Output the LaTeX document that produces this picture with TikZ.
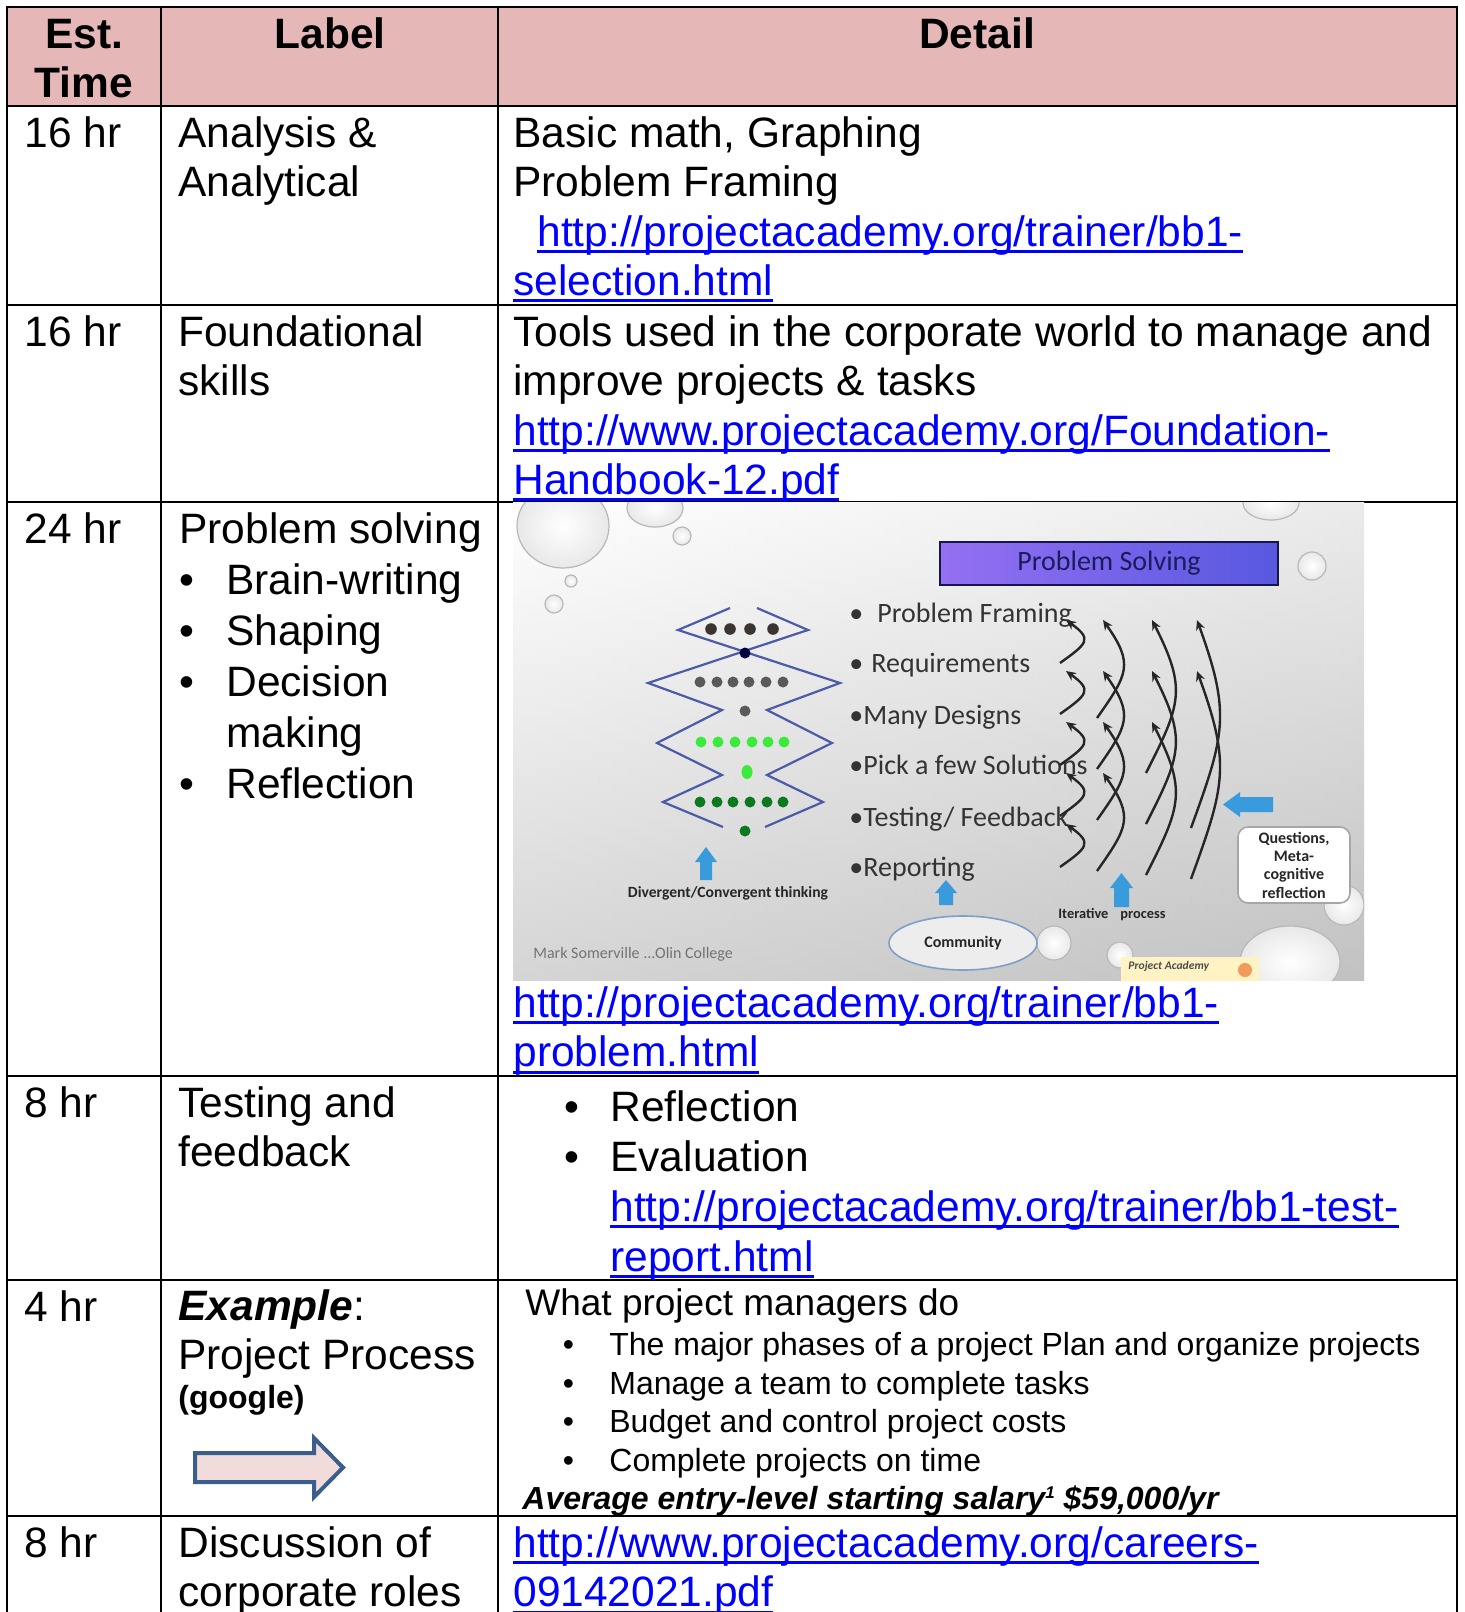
\documentclass[tikz,border=0pt]{standalone}
\usepackage{fontspec}
\setmainfont{Liberation Sans}
\newfontfamily\slidefont{Carlito}
\usetikzlibrary{arrows.meta, shapes.geometric}

\definecolor{headpink}{HTML}{E5B8B7}
\definecolor{linkblue}{HTML}{0000FF}
\definecolor{skyarrow}{HTML}{3A9BDC}
\definecolor{zigblue}{HTML}{4B5BAA}
\definecolor{titlenavy}{HTML}{1B1B5E}
\definecolor{boxleft}{HTML}{9470F2}
\definecolor{boxright}{HTML}{5858E0}
\definecolor{ppedge}{HTML}{3B5E8C}
\definecolor{ppfill}{HTML}{F2DCDB}
\definecolor{dotbrown}{HTML}{3B3430}
\definecolor{dotgrey}{HTML}{5A5A5A}
\definecolor{dotlime}{HTML}{3BEB3B}
\definecolor{dotgreen}{HTML}{0B7A1E}
\definecolor{commedge}{HTML}{7F9FC6}
\definecolor{logofill}{HTML}{FFF3C4}
\definecolor{logodot}{HTML}{F09A5C}

\newcommand{\bodyfont}{\fontsize{21.25pt}{24.65pt}\selectfont}
\newcommand{\probfont}{\fontsize{21.25pt}{25.5pt}\selectfont}
\newcommand{\feedfont}{\fontsize{21.25pt}{25pt}\selectfont}
\newcommand{\whatfont}{\fontsize{18.5pt}{21pt}\selectfont}
\newcommand{\pointfont}{\fontsize{16pt}{19.35pt}\selectfont}
\newcommand{\cellstrut}{\rule{0pt}{17pt}}
\newcommand{\itembul}[1]{\makebox[#1][l]{\textbullet}}
\newcommand{\weblink}[1]{{\color{linkblue}\setbox0\hbox{#1}\rlap{\rule[-3.4pt]{\wd0}{1.5pt}}\box0}}
\newcommand{\noteone}{\raisebox{5.5pt}{\fontsize{8.5pt}{9pt}\selectfont 1}}

\begin{document}
\begin{tikzpicture}[x=0.5pt, y=-0.5pt, >={Stealth[length=5pt,width=4.5pt]},
  gridline/.style={line width=1.25pt, line cap=rect},
  headcell/.style={anchor=north, inner sep=0pt, align=center, font=\bodyfont\bfseries},
  cell/.style={anchor=north west, inner sep=0pt, align=left, font=\bodyfont},
  slidetext/.style={anchor=base west, inner sep=0pt, text=black!80, font=\slidefont\fontsize{14pt}{16pt}\selectfont},
  slidebold/.style={inner sep=0pt, text=black!85, font=\slidefont\bfseries\fontsize{7.8pt}{9pt}\selectfont},
  drop/.style={draw=black!28, line width=0.6pt, inner color=white, outer color=black!9},
  zigline/.style={draw=zigblue, line width=1.1pt},
  iterarrow/.style={draw=black!85, line width=1.2pt, ->},
  skyblock/.style={fill=skyarrow}]
\useasboundingbox (0,0) rectangle (1465,1612);

% table
\fill[headpink] (7,7) rectangle (1457,106);
\foreach \yy in {7,106,305,502,1076,1280,1516}
  \draw[gridline] (7,\yy) -- (1457,\yy);
\foreach \xx in {7,161,498,1457}
  \draw[gridline] (\xx,7) -- (\xx,1612);

\node[headcell] (esttime) at (84,14) {\cellstrut Est.\\Time};
\node[headcell] (labelhead) at (330,14) {\cellstrut Label};
\node[headcell] (detailhead) at (977,14) {\cellstrut Detail};

% row 1
\node[cell] (time1) at (24,113) {\cellstrut 16 hr};
\node[cell] (label1) at (178,113) {\cellstrut Analysis \&\\Analytical};
\node[cell] (detail1) at (513,113) {\cellstrut Basic math, Graphing\\Problem Framing\\\hspace*{12pt}\weblink{http://projectacademy.org/trainer/bb1-}\\\weblink{selection.html}};

% row 2
\node[cell] (time2) at (24,312) {\cellstrut 16 hr};
\node[cell] (label2) at (178,312) {\cellstrut Foundational\\skills};
\node[cell] (detail2) at (513,312) {\cellstrut Tools used in the corporate world to manage and\\improve projects \& tasks\\\weblink{http://www.projectacademy.org/Foundation-}\\\weblink{Handbook-12.pdf}};

% row 3
\node[cell] (time3) at (24,509) {\cellstrut 24 hr};
\node[cell, font=\probfont] (label3) at (179,509) {\cellstrut Problem solving\\\itembul{23.5pt}Brain-writing\\\itembul{23.5pt}Shaping\\\itembul{23.5pt}Decision\\\hspace*{23.5pt}making\\\itembul{23.5pt}Reflection};
\node[cell] (detail3) at (513,983) {\cellstrut\weblink{http://projectacademy.org/trainer/bb1-}\\\weblink{problem.html}};

% row 4
\node[cell] (time4) at (24,1083) {\cellstrut 8 hr};
\node[cell] (label4) at (178,1083) {\cellstrut Testing and\\feedback};
\node[cell, font=\feedfont] (detail4) at (564,1087) {\cellstrut\itembul{23pt}Reflection\\\itembul{23pt}Evaluation\\\hspace*{23pt}\weblink{http://projectacademy.org/trainer/bb1-test-}\\\hspace*{23pt}\weblink{report.html}};

% row 5
\node[cell] (time5) at (24,1287) {\cellstrut 4 hr};
\node[cell] (label5) at (178,1286) {\cellstrut\textbf{\textit{Example}}:\\Project Process};
\node[cell, font=\pointfont\bfseries] (google) at (178,1374) {\cellstrut(google)};
\draw[draw=ppedge, fill=ppfill, line width=2pt] (195,1453) -- (314,1453) -- (314,1438) -- (343,1467.5) -- (314,1497) -- (314,1482) -- (195,1482) -- cycle;
\node[cell, font=\whatfont] (detail5) at (525,1281) {\cellstrut What project managers do};
\node[cell, font=\pointfont] (tasks5) at (562.5,1321) {\cellstrut\itembul{23.25pt}The major phases of a project Plan and organize projects\\\itembul{23.25pt}Manage a team to complete tasks\\\itembul{23.25pt}Budget and control project costs\\\itembul{23.25pt}Complete projects on time};
\node[cell, font=\pointfont\bfseries\itshape] (salary) at (522,1475) {\cellstrut Average entry-level starting salary\noteone\ \$59,000/yr};

% row 6
\node[cell] (time6) at (24,1523) {\cellstrut 8 hr};
\node[cell] (label6) at (178,1523) {\cellstrut Discussion of\\corporate roles};
\node[cell] (detail6) at (513,1523) {\cellstrut\weblink{http://www.projectacademy.org/careers-}\\\weblink{09142021.pdf}};

% slide picture
\begin{scope}
\clip (513,502) rectangle (1364,980);
\shade[top color=white, bottom color=black!25] (513,502) rectangle (1364,980);
\shade[left color=white, right color=black!22, opacity=0.35] (513,502) rectangle (1364,980);
\foreach \cx/\cy/\rx/\ry in {563/526/46/42, 655/508/28/19, 682/536/9/9, 571/581/6/6, 554/604/9/9, 1271/503/28/17, 1312/566/14/14, 1054/943/17/17, 1344/905/20/20, 1290/962/50/36, 1120/955/13/13}
  \draw[drop] (\cx,\cy) ellipse [x radius=\rx, y radius=\ry];

\node[draw=titlenavy!80!black, line width=1.2pt, left color=boxleft, right color=boxright, minimum width=169pt, minimum height=21.5pt, inner sep=0pt, text=titlenavy, font=\slidefont\fontsize{14pt}{16pt}\selectfont] (pstitle) at (1109,563.5) {Problem Solving};

\foreach \n/\yy/\gap/\txt in {1/622/14pt/Problem Framing, 2/672/11pt/Requirements, 3/724/7pt/Many Designs, 4/774/7pt/Pick a few Solutions, 5/826/7pt/{Testing/ Feedback}, 6/876/7pt/Reporting}
  \node[slidetext] (phase\n) at (849,\yy) {\makebox[\gap][l]{\textbullet}\txt};

\draw[zigline] (730,608) -- (678,630) -- (840,683) -- (767,710) -- (832,743) -- (767,775) -- (823,802) -- (765,827);
\draw[zigline] (757,608) -- (808,630) -- (648,683) -- (722,710) -- (657,743) -- (722,775) -- (663,802) -- (723,827);
\foreach \xx in {711,730,750,773} \fill[dotbrown] (\xx,629) circle (5.8);
\fill[black!75!blue] (745,653) circle (5.5);
\foreach \xx in {700,717,733,749,766,783} \fill[dotgrey] (\xx,682) circle (5.5);
\fill[dotgrey] (745,711) circle (5.5);
\foreach \xx in {701,718,735,752,768,784} \fill[dotlime] (\xx,742) circle (5.5);
\fill[dotlime] (747,772) ellipse [x radius=5.5, y radius=7];
\foreach \xx in {700,717,733,750,767,783} \fill[dotgreen] (\xx,802) circle (5.5);
\fill[dotgreen] (745,831) circle (5.5);

\node[ellipse, draw=commedge, line width=0.8pt, fill=black!7, minimum width=74pt, minimum height=27pt, inner sep=0pt, text=black!85, font=\slidefont\bfseries\fontsize{8pt}{9pt}\selectfont] (community) at (963,943) {Community};

\foreach \cx/\tp/\hb/\bt/\hh/\hs in {706/847/862/880/11/6, 946/880/893/905/11/7, 1121.5/873/888/907/11.5/7.5}
  \fill[skyblock] (\cx-\hs,\bt) -- (\cx-\hs,\hb) -- (\cx-\hh,\hb) -- (\cx,\tp) -- (\cx+\hh,\hb) -- (\cx+\hs,\hb) -- (\cx+\hs,\bt) -- cycle;
\fill[skyblock] (1273,797) -- (1240,797) -- (1240,792) -- (1223,804.5) -- (1240,817) -- (1240,812) -- (1273,812) -- cycle;

\foreach \k/\xb/\bb in {1/1060/27, 2/1097/31, 3/1146/35, 4/1191/34}{
  \pgfmathtruncatemacro\nlast{5-\k}
  \foreach \i in {0,...,\nlast}{
    \pgfmathsetmacro\yt{620+51*\i}
    \pgfmathsetmacro\yb{608+51*(\i+\k)+4*\k}
    \pgfmathsetmacro\spanh{\yb-\yt}
    \draw[iterarrow] (\xb,\yb) .. controls (\xb+\bb,\yb-0.45*\spanh) and (\xb+6+\bb,\yt+0.45*\spanh) .. (\xb+6,\yt);
  }
}

\node[draw=black!35, fill=white, rounded corners=5pt, line width=0.8pt, minimum width=56pt, minimum height=38pt, align=center, inner sep=1pt, text=black!85, font=\slidefont\bfseries\fontsize{8pt}{9.15pt}\selectfont] (metabox) at (1294,865) {Questions,\\Meta-\\cognitive\\reflection};

\node[slidebold] (divtxt) at (728,893) {Divergent/Convergent thinking};
\node[slidebold, font=\slidefont\bfseries\fontsize{7.2pt}{8pt}\selectfont] (itertxt) at (1112,915) {Iterative\hspace{6pt}process};
\node[slidetext, text=black!55, font=\slidefont\fontsize{8pt}{9pt}\selectfont] (credit) at (533,958) {Mark Somerville ...Olin College};

\fill[logofill] (1121,957) rectangle (1259,982);
\node[slidetext, text=black!70, font=\slidefont\bfseries\itshape\fontsize{5.8pt}{7pt}\selectfont] (logotxt) at (1128,969) {Project Academy};
\fill[logodot] (1245,970) circle (7);
\end{scope}

\end{tikzpicture}
\end{document}
